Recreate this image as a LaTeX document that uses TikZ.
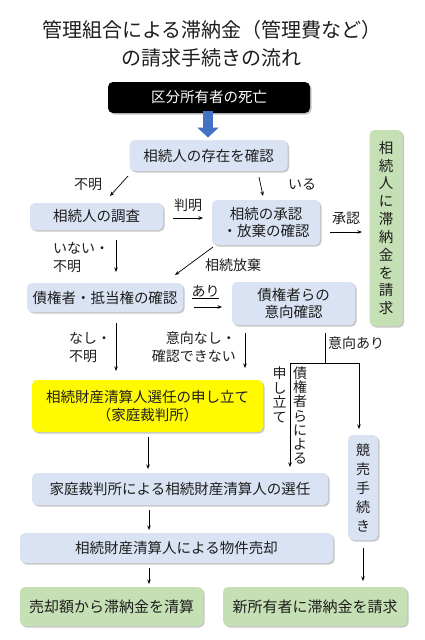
\documentclass[tikz,border=0pt]{standalone}
\usepackage{fontspec}
\setmainfont{Noto Sans CJK JP}
\usetikzlibrary{arrows.meta,shadows}
\definecolor{boxblue}{RGB}{218,227,243}
\definecolor{boxgreen}{RGB}{197,224,180}
\definecolor{boxyellow}{RGB}{255,250,0}
\definecolor{arrowblue}{RGB}{68,114,196}
\definecolor{txt}{RGB}{30,30,30}
\tikzset{
  basebox/.style={rounded corners=5pt, inner sep=0pt, align=center, text=txt,
    font=\fontsize{14.5}{17.5}\selectfont,
    drop shadow={shadow xshift=1.5pt, shadow yshift=-1.5pt, fill=black, opacity=0.22}},
  bbox/.style={basebox, fill=boxblue},
  gbox/.style={basebox, fill=boxgreen},
  ybox/.style={basebox, fill=boxyellow},
  kbox/.style={basebox, fill=black, text=white},
  lbl/.style={inner sep=0pt, text=txt, font=\fontsize{14}{18}\selectfont},
  arr/.style={draw=black, line width=0.7pt, -{Stealth[length=4.5pt,width=3.5pt]}},
  plain/.style={draw=black, line width=0.7pt},
  bigarrow/.style={draw=arrowblue, line width=10pt, -{Triangle[length=10pt,width=21pt]}}
}
\begin{document}
\begin{tikzpicture}[x=1pt,y=-1pt]
\fill[white] (0,0) rectangle (424,640);
\useasboundingbox (0,0) rectangle (424,640);

% title
\node[inner sep=0pt, align=center, text=txt, font=\fontsize{20}{28}\selectfont] (title) at (212,44)
  {管理組合による滞納金（管理費など）\\の請求手続きの流れ};

% boxes
\node[kbox, minimum width=202pt, minimum height=31pt] (death) at (209,97.5) {区分所有者の死亡};
\node[bbox, minimum width=158pt, minimum height=31pt] (exist) at (208.5,155.5) {相続人の存在を確認};
\node[gbox, minimum width=33pt, minimum height=196pt, font=\fontsize{14.5}{17.8}\selectfont] (heirclaim) at (386,228)
  {相\\続\\人\\に\\滞\\納\\金\\を\\請\\求};
\node[bbox, minimum width=133pt, minimum height=27pt] (survey) at (96.5,216.5) {相続人の調査};
\node[bbox, minimum width=108pt, minimum height=45pt] (accept) at (266,222.5) {相続の承認\\・放棄の確認};
\node[bbox, minimum width=156pt, minimum height=29pt] (creditor) at (105,297.5) {債権者・抵当権の確認};
\node[bbox, minimum width=123pt, minimum height=43pt] (intent) at (293.5,303.5) {債権者らの\\意向確認};
\node[ybox, minimum width=231pt, minimum height=52pt, font=\fontsize{14.5}{18}\selectfont] (petition) at (147.5,406) {相続財産清算人選任の申し立て\\（家庭裁判所）};
\node[bbox, minimum width=296pt, minimum height=32pt] (appoint) at (180,489) {家庭裁判所による相続財産清算人の選任};
\node[bbox, minimum width=30pt, minimum height=105pt, font=\fontsize{14}{19}\selectfont] (auction) at (363,487.5) {競\\売\\手\\続\\き};
\node[bbox, minimum width=313pt, minimum height=30pt] (sale) at (176.5,548) {相続財産清算人による物件売却};
\node[gbox, minimum width=183pt, minimum height=39pt, font=\fontsize{15}{18}\selectfont] (settle) at (111.5,606.5) {売却額から滞納金を清算};
\node[gbox, minimum width=184pt, minimum height=39pt, font=\fontsize{15}{18}\selectfont] (newowner) at (315,606.5) {新所有者に滞納金を請求};

% big blue arrow
\coordinate (ba1) at (208,111);
\coordinate (ba2) at (208,137.5);
\draw[bigarrow] (ba1) -- (ba2);

% connectors
\coordinate (a1s) at (128,176); \coordinate (a1e) at (110,196);
\draw[arr] (a1s) -- (a1e);
\node[lbl] (l1) at (88,185) {不明};

\coordinate (a2s) at (259,177); \coordinate (a2e) at (263,196);
\draw[arr] (a2s) -- (a2e);
\node[lbl] (l2) at (302,185) {いる};

\coordinate (a3s) at (173,218); \coordinate (a3e) at (203,218);
\draw[arr] (a3s) -- (a3e);
\node[lbl] (l3) at (188,205) {判明};

\coordinate (a4s) at (330,232); \coordinate (a4e) at (362,232);
\draw[arr] (a4s) -- (a4e);
\node[lbl] (l4) at (346,218) {承認};

\coordinate (a5s) at (116,240); \coordinate (a5e) at (116,272);
\draw[arr] (a5s) -- (a5e);
\node[lbl, anchor=west, align=left] (l5) at (53,257.5) {いない・\\不明};

\coordinate (a6s) at (213,247); \coordinate (a6e) at (175,275);
\draw[arr] (a6s) -- (a6e);
\node[lbl] (l6) at (233,265) {相続放棄};

\coordinate (a7s) at (194,307); \coordinate (a7e) at (222,307);
\draw[arr] (a7s) -- (a7e);
\node[lbl] (l7) at (205.5,291) {あり};
\draw[plain] (192,298.5) -- (219,298.5);

\coordinate (a8s) at (116,323); \coordinate (a8e) at (116,371);
\draw[arr] (a8s) -- (a8e);
\node[lbl, anchor=west, align=left] (l8) at (69,347.5) {なし・\\不明};

\coordinate (a9s) at (245,333); \coordinate (a9e) at (245,368);
\draw[arr] (a9s) -- (a9e);
\node[lbl, anchor=east, align=right] (l9) at (236,347.5) {意向なし・\\確認できない};

% intent yes branch
\coordinate (b0) at (325,333);
\coordinate (b1) at (325,363);
\coordinate (bl) at (290,363);
\coordinate (br) at (359,363);
\coordinate (ble) at (290,467);
\coordinate (bre) at (359,429);
\draw[plain] (b0) -- (b1);
\draw[plain] (bl) -- (br);
\draw[arr] (bl) -- (ble);
\draw[arr] (br) -- (bre);
\node[lbl, anchor=west] (l10) at (328,343) {意向あり};
\node[lbl, align=center, font=\fontsize{14}{14.2}\selectfont] (l11) at (300,415.5) {債\\権\\者\\ら\\に\\よ\\る};
\node[lbl, align=center, font=\fontsize{14}{14.5}\selectfont] (l12) at (279.5,395) {申\\し\\立\\て};

% lower chain
\coordinate (c1s) at (148,437); \coordinate (c1e) at (148,469);
\draw[arr] (c1s) -- (c1e);
\coordinate (c2s) at (149,510); \coordinate (c2e) at (149,530);
\draw[arr] (c2s) -- (c2e);
\coordinate (c3s) at (149,568); \coordinate (c3e) at (149,584);
\draw[arr] (c3s) -- (c3e);
\coordinate (c4s) at (363,548); \coordinate (c4e) at (363,581);
\draw[arr] (c4s) -- (c4e);
\end{tikzpicture}
\end{document}
